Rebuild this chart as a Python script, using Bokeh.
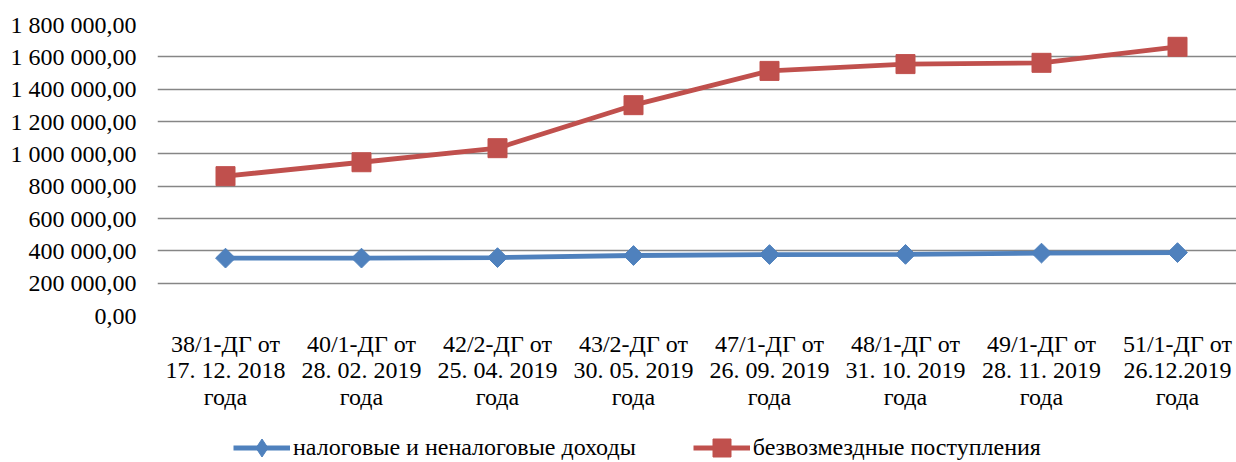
from bokeh.plotting import figure
from bokeh.layouts import column
from bokeh.models import FixedTicker, Range1d, Legend, LegendItem
from bokeh.embed import file_html
from bokeh.resources import INLINE

categories = [
    "38/1-ДГ от\n17. 12. 2018\nгода",
    "40/1-ДГ от\n28. 02. 2019\nгода",
    "42/2-ДГ от\n25. 04. 2019\nгода",
    "43/2-ДГ от\n30. 05. 2019\nгода",
    "47/1-ДГ от\n26. 09. 2019\nгода",
    "48/1-ДГ от\n31. 10. 2019\nгода",
    "49/1-ДГ от\n28. 11. 2019\nгода",
    "51/1-ДГ от\n26.12.2019\nгода",
]
tax_income = [355000, 355000, 358000, 371000, 377000, 378000, 386000, 389000]
grants = [862000, 948000, 1035000, 1301000, 1513000, 1555000, 1563000, 1662000]
y_ticks = [0, 200000, 400000, 600000, 800000, 1000000, 1200000, 1400000, 1600000, 1800000]
series_names = ["налоговые и неналоговые доходы", "безвозмездные поступления"]

FONT = "Liberation Serif"
BLUE = "#4F81BD"
RED = "#C0504D"

def fmt(v):
    s = f"{v:,.2f}"
    return s.replace(",", " ").replace(".", ",")

xs = list(range(len(categories)))

PH = 434
p = figure(width=1236, height=PH, output_backend="svg", toolbar_location=None,
           x_range=Range1d(-0.5, -0.5 + 1079 / 136), y_range=Range1d(0, 1800000),
           min_border_left=157, min_border_right=0, min_border_top=24, min_border_bottom=PH - 315)
p.outline_line_color = None
p.background_fill_color = "white"
p.border_fill_color = "white"

p.xgrid.grid_line_color = None
p.ygrid.grid_line_color = "#868686"
p.ygrid.grid_line_width = 1.5
p.ygrid.ticker = FixedTicker(ticks=y_ticks)

p.yaxis.ticker = FixedTicker(ticks=y_ticks)
p.yaxis.major_label_overrides = {t: fmt(t) for t in y_ticks}
p.xaxis.ticker = FixedTicker(ticks=xs)
p.xaxis.major_label_overrides = {i: c for i, c in enumerate(categories)}

for ax in (p.xaxis[0], p.yaxis[0]):
    ax.axis_line_color = None
    ax.major_tick_line_color = None
    ax.minor_tick_line_color = None
    ax.major_tick_out = 0
    ax.major_tick_in = 0
    ax.major_label_text_font = FONT
    ax.major_label_text_font_size = "24px"
    ax.major_label_text_color = "black"
p.xaxis.major_label_text_line_height = 1.03
p.yaxis.major_label_standoff = 21
p.xaxis.major_label_standoff = 15

p.line(xs, tax_income, line_color=BLUE, line_width=4.8)
p.scatter(xs, tax_income, marker="square", angle=0.7853981634, size=14,
          fill_color=BLUE, line_color=BLUE)
p.line(xs, grants, line_color=RED, line_width=4.8)
p.scatter(xs, grants, marker="square", size=19, fill_color=RED, line_color=RED)

# legend strip below the chart (series drawn off-range, only legend visible)
p2 = figure(width=1236, height=462 - PH, output_backend="svg", toolbar_location=None,
            x_axis_type=None, y_axis_type=None, min_border=0,
            x_range=Range1d(100, 101), y_range=Range1d(0, 1))
p2.outline_line_color = None
p2.xgrid.grid_line_color = None
p2.ygrid.grid_line_color = None
l1 = p2.line(xs, tax_income, line_color=BLUE, line_width=4.8)
m1 = p2.scatter(xs, tax_income, marker="diamond", size=14,
                fill_color=BLUE, line_color=BLUE)
l2 = p2.line(xs, grants, line_color=RED, line_width=4.8)
m2 = p2.scatter(xs, grants, marker="square", size=19, fill_color=RED, line_color=RED)

legend = Legend(items=[LegendItem(label=series_names[0], renderers=[l1, m1]),
                       LegendItem(label=series_names[1], renderers=[l2, m2])],
                location=(76, -8), orientation="horizontal")
legend.label_text_font = FONT
legend.label_text_font_size = "24px"
legend.label_text_color = "black"
legend.glyph_width = 57
legend.glyph_height = 45
legend.label_standoff = 3
legend.spacing = 57
legend.padding = 0
legend.margin = 0
legend.border_line_color = None
legend.background_fill_alpha = 0
p2.add_layout(legend)

open("out.html", "w").write(file_html(column(p, p2, spacing=0), INLINE))
